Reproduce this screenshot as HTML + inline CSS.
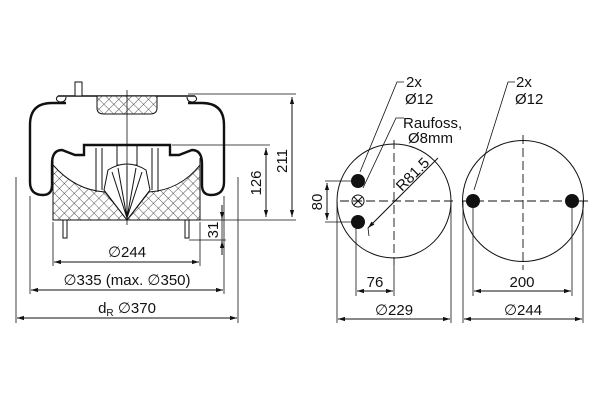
<!DOCTYPE html>
<html><head><style>body{margin:0;background:#fff}svg{display:block}text{font-family:"Liberation Sans","DejaVu Sans",sans-serif;fill:#111}</style></head><body>
<svg width="600" height="400" viewBox="0 0 600 400" xmlns="http://www.w3.org/2000/svg">
<defs>
<pattern id="h" width="7" height="7" patternUnits="userSpaceOnUse" patternTransform="rotate(45)">
<rect width="7" height="7" fill="#fff"/><path d="M0 0H7M0 0V7" stroke="#222" stroke-width="0.8"/></pattern>
<marker id="a" viewBox="0 0 10 10" refX="10" refY="5" markerWidth="9" markerHeight="7" markerUnits="userSpaceOnUse" orient="auto-start-reverse"><path d="M0 2L10 5L0 8z" fill="#111"/></marker>
</defs>
<g fill="none" stroke="#111" stroke-width="1">
<path d="M58 96H195" stroke-width="1.5"/>
<path d="M58 96q-4 4 2 6q6 0 6-5M195 96q4 4-2 6q-6 0-6-5"/>
<rect x="75" y="82" width="7" height="14" fill="#fff"/>
<path d="M97 96H157V108Q157 114 150 114H104Q97 114 97 108Z" fill="url(#h)"/>
<path d="M66 103H52Q30 103 30 125V182Q30 195 43 195Q52 195 52 185V164Q52 150 62 150L75 155H84V145H170V155H179L192 150Q202 150 202 164V185Q202 195 211 195Q224 195 224 182V125Q224 103 202 103H188" stroke-width="2.4"/>
<path d="M53 165Q75 190 105 192L127 220L149 192Q180 190 200 165V220H53Z" fill="url(#h)"/>
<path d="M53 158V220H200V158"/>
<path d="M96 148V192M158 148V192M102 148V190M152 148V190"/>
<path d="M117 146V165H137V146"/>
<path d="M108 170Q127 158 146 170L150 190L127 220L104 190Z" fill="#fff"/>
<path d="M112 172L127 218M118 168L127 218M127 166V220M136 168L127 218M142 172L127 218"/>
<path d="M127 90V225" stroke-width="0.8"/>
<path d="M63 220v18h4v-18M185 220v18h4v-18"/>
<path d="M188 94H296M172 145H270M200 220H296M189 240H226" stroke-width="0.8"/>
<path d="M292 97V217" marker-start="url(#a)" marker-end="url(#a)"/>
<path d="M266 148V217" marker-start="url(#a)" marker-end="url(#a)"/>
<path d="M222 205V219" marker-end="url(#a)"/><path d="M222 255V241" marker-end="url(#a)"/><path d="M222 219V241" stroke-width="0.8"/>
<path d="M53 222V266M200 222V266M30 196V294M224 196V294M16 177V323M238 177V323" stroke-width="0.8"/>
<path d="M54 262H199" marker-start="url(#a)" marker-end="url(#a)"/>
<path d="M31 290H223" marker-start="url(#a)" marker-end="url(#a)"/>
<path d="M17 318H237" marker-start="url(#a)" marker-end="url(#a)"/>
<circle cx="394" cy="201" r="57"/>
<circle cx="523" cy="201" r="60.5"/>
<path d="M394 140V265M523 135V270M340 201H455M462 201H588" stroke-dasharray="9 4" stroke-width="0.9"/>
<circle cx="358" cy="201" r="6"/><path d="M354 197l8 8M362 197l-8 8"/>
<path d="M325 181H358M325 222H358" stroke-width="0.8"/>
<path d="M327 183V220" marker-start="url(#a)" marker-end="url(#a)"/>
<path d="M438 158L368 228" marker-end="url(#a)"/><path d="M368 228L369 236" stroke-width="0.8"/>
<path d="M404 82H397L360 172M404 118H396L363 188M515 82H508L474 190" stroke-width="0.8"/>
<path d="M356 222V296M394 265V296M337 201V323M451 201V323M463 201V323M583 201V323M473 201V296M572 201V296" stroke-width="0.8"/>
<path d="M357 291H393" marker-start="url(#a)" marker-end="url(#a)"/>
<path d="M474 291H571" marker-start="url(#a)" marker-end="url(#a)"/>
<path d="M338 319H450" marker-start="url(#a)" marker-end="url(#a)"/>
<path d="M464 319H582" marker-start="url(#a)" marker-end="url(#a)"/>
</g>
<g fill="#111"><circle cx="358" cy="181" r="7"/><circle cx="358" cy="222" r="7"/><circle cx="473" cy="201" r="7"/><circle cx="572" cy="201" r="7"/></g>
<g font-size="15">
<text x="127" y="257" text-anchor="middle">∅244</text>
<text x="127" y="285" text-anchor="middle">∅335 (max. ∅350)</text>
<text x="127" y="313" text-anchor="middle">d<tspan font-size="10" dy="3">R</tspan><tspan dy="-3"> ∅370</tspan></text>
<text transform="translate(287 161) rotate(-90)" text-anchor="middle">211</text>
<text transform="translate(261 183) rotate(-90)" text-anchor="middle">126</text>
<text transform="translate(218 230) rotate(-90)" text-anchor="middle">31</text>
<text transform="translate(322 202) rotate(-90)" text-anchor="middle">80</text>
<text x="406" y="87">2x</text><text x="405" y="104">Ø12</text>
<text x="403" y="128">Raufoss,</text><text x="408" y="143">Ø8mm</text>
<text x="516" y="87">2x</text><text x="515" y="104">Ø12</text>
<text transform="translate(402 192) rotate(-45)">R81.5</text>
<text x="375" y="287" text-anchor="middle">76</text>
<text x="522" y="287" text-anchor="middle">200</text>
<text x="394" y="315" text-anchor="middle">∅229</text>
<text x="523" y="315" text-anchor="middle">∅244</text>
</g>
</svg>
</body></html>
